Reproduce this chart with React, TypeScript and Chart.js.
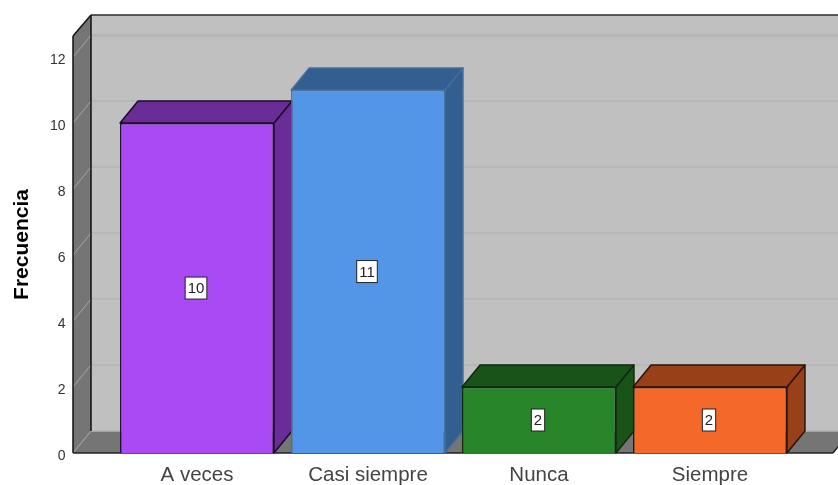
import React, { useEffect, useRef } from "react";
import { Chart, registerables } from "chart.js";

Chart.register(...registerables);

const categories = ["A veces", "Casi siempre", "Nunca", "Siempre"];
const frequencies = [10, 11, 2, 2];
const yAxisMax = 12.64;
const yTickStep = 2;
const yAxisTitle = "Frecuencia";

const frontColors = ["#a94af5", "#5395e6", "#29852a", "#f4682a"];
const sideColors = ["#6a2c96", "#335e90", "#1a5317", "#984118"];
const edgeColors = ["#1c0c28", "#44709f", "#0d2a0c", "#2a1408"];

const DX = 18;
const DY = 22;
const FONT = '"Liberation Sans", Arial, sans-serif';

const poly = (ctx: CanvasRenderingContext2D, pts: number[][], fill: string | null, stroke: string | null, lw = 1.5) => {
  ctx.beginPath();
  pts.forEach(([x, y], i) => (i ? ctx.lineTo(x, y) : ctx.moveTo(x, y)));
  ctx.closePath();
  if (fill) { ctx.fillStyle = fill; ctx.fill(); }
  if (stroke) { ctx.strokeStyle = stroke; ctx.lineWidth = lw; ctx.lineJoin = "round"; ctx.stroke(); }
};
const seg = (ctx: CanvasRenderingContext2D, x1: number, y1: number, x2: number, y2: number, c: string, lw: number) => {
  ctx.beginPath(); ctx.moveTo(x1, y1); ctx.lineTo(x2, y2); ctx.strokeStyle = c; ctx.lineWidth = lw; ctx.stroke();
};

const box3d = {
  id: "box3d",
  beforeDatasetsDraw(chart: any) {
    const { ctx, chartArea: a, scales } = chart;
    const L = a.left - 38.5, R = a.right + 37.5, T = a.top, B = a.bottom;
    ctx.save();
    // back wall, left wall, floor
    poly(ctx, [[L + DX, T - DY + 1], [R + DX, T - DY + 1], [R + DX, B - DY], [L + DX, B - DY]], "#c0c0c0", null);
    poly(ctx, [[L, T], [L + DX, T - DY + 1], [L + DX, B - DY], [L, B]], "#757575", null);
    poly(ctx, [[L, B], [L + DX, B - DY], [R + DX, B - DY], [R, B]], "#757575", null);
    // grid from the y scale
    for (const t of scales.y.ticks) {
      const y = scales.y.getPixelForValue(t.value);
      seg(ctx, L + DX, y - DY, R + DX, y - DY, "#b4b4b4", 1.5);
      seg(ctx, L, y, L + DX, y - DY, "#a6a6a6", 1);
    }
    seg(ctx, L + DX, T - DY + 1, R + DX, T - DY + 1, "#2a2a2a", 1.5);
    seg(ctx, L + DX, T, R + DX, T, "#b4b4b4", 1.5);
    seg(ctx, L, T, L + DX, T - DY + 1, "#111", 1.5);
    seg(ctx, L, T, L, B, "#111", 1.5);
    seg(ctx, L + DX, T - DY + 1, L + DX, B - DY, "#111", 1.5);
    seg(ctx, L, B, R, B, "#222", 1.5);
    seg(ctx, R, B, R + DX, B - DY, "#222", 1.5);
    // bar tops and sides
    const meta = chart.getDatasetMeta(0);
    meta.data.forEach((bar: any, i: number) => {
      const hw = bar.width / 2;
      const l = bar.x - hw, r = bar.x + hw, t = bar.y, b = bar.base;
      poly(ctx, [[r, t], [r + DX, t - DY], [r + DX, b - DY], [r, b]], sideColors[i], edgeColors[i]);
      poly(ctx, [[l, t], [l + DX, t - DY], [r + DX, t - DY], [r, t]], sideColors[i], edgeColors[i]);
    });
    ctx.restore();
  },
  afterDatasetsDraw(chart: any) {
    const { ctx } = chart;
    const meta = chart.getDatasetMeta(0);
    ctx.save();
    ctx.font = `15px ${FONT}`;
    ctx.textAlign = "center";
    ctx.textBaseline = "middle";
    meta.data.forEach((bar: any, i: number) => {
      const label = String(frequencies[i]);
      const cy = (bar.y + bar.base) / 2;
      const w = ctx.measureText(label).width + 5;
      const h = 22;
      ctx.fillStyle = "#ffffff";
      ctx.strokeStyle = "#222";
      ctx.lineWidth = 1;
      ctx.fillRect(bar.x - 1 - w / 2, cy - h / 2, w, h);
      ctx.strokeRect(bar.x - 1 - w / 2, cy - h / 2, w, h);
      ctx.fillStyle = "#222";
      ctx.fillText(label, bar.x - 1, cy + 1);
    });
    ctx.restore();
  },
};

export default function App() {
  const ref = useRef<HTMLCanvasElement>(null);
  useEffect(() => {
    document.body.style.margin = "0";
    const chart = new Chart(ref.current!, {
      type: "bar",
      data: {
        labels: categories,
        datasets: [{
          data: frequencies,
          backgroundColor: frontColors,
          borderColor: edgeColors,
          borderWidth: 1.5,
          barPercentage: 0.9,
          categoryPercentage: 1,
          clip: false,
        } as any],
      },
      plugins: [box3d],
      options: {
        animation: false,
        responsive: false,
        devicePixelRatio: 1,
        layout: { padding: { top: 36, right: 42.5, left: 0, bottom: 0 } },
        plugins: { legend: { display: false }, tooltip: { enabled: false } },
        scales: {
          x: {
            grid: { display: false, drawTicks: false },
            border: { display: false },
            ticks: { font: { family: FONT, size: 20.5 }, color: "#444", padding: 10, maxRotation: 0 },
            afterFit(s: any) { s.height = 32; },
          },
          y: {
            min: 0,
            max: yAxisMax,
            grid: { display: false, drawTicks: false },
            border: { display: false },
            ticks: {
              stepSize: yTickStep,
              includeBounds: false,
              font: { family: FONT, size: 14 },
              color: "#333",
              padding: 46,
              labelOffset: 3,
            },
            title: {
              display: true,
              text: yAxisTitle,
              font: { family: FONT, size: 21, weight: "bold" },
              color: "#000",
              padding: { top: 10, bottom: 0 },
            },
            afterFit(s: any) { s.width = 111.5; s.paddingTop = 0; s.paddingBottom = 0; },
          },
        },
      } as any,
    });
    return () => chart.destroy();
  }, []);
  return <canvas ref={ref} width={838} height={485} style={{ display: "block" }} />;
}
